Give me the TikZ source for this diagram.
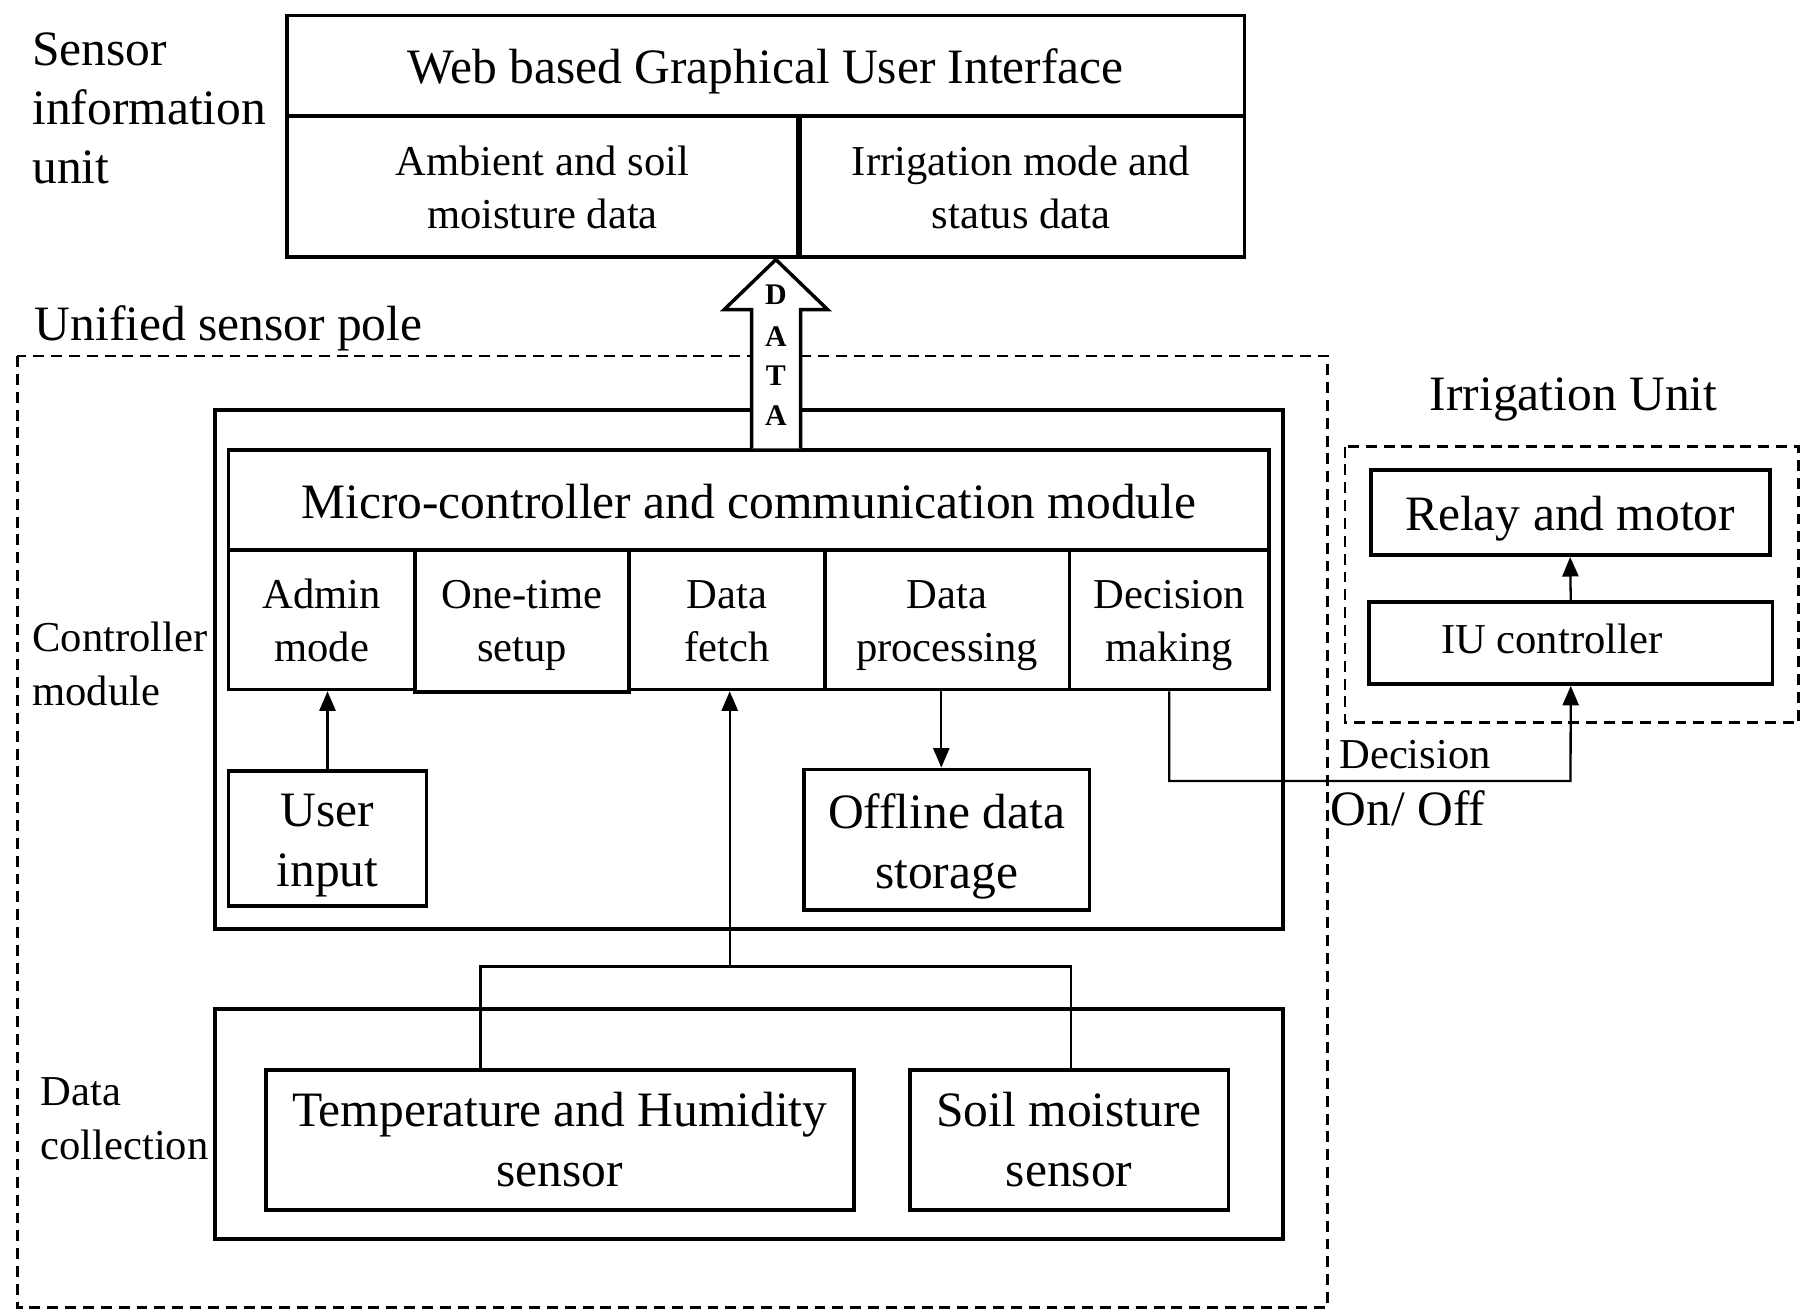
\documentclass[tikz,border=0pt]{standalone}
\usepackage{fontspec}
\setmainfont{Liberation Serif}
\usetikzlibrary{arrows.meta}
\newlength\tsh
\begin{document}
\begin{tikzpicture}[x=1pt,y=-1pt,
  lg/.style={font=\fontsize{43}{52}\selectfont},
  sm/.style={font=\fontsize{37}{46}\selectfont},
  ts/.code={\setlength\tsh{#1pt}},
  box/.style={draw,line width=3.2pt,inner sep=0pt,align=center,ts=6,
    execute at begin node={\rule{0pt}{\dimexpr.7\baselineskip+2\tsh\relax}},
    execute at end node={\strut}},
  box2/.style={draw,line width=3.2pt,inner sep=0pt,align=center,ts=4.3,
    execute at begin node={\rule{0pt}{\dimexpr1.7\baselineskip+2\tsh\relax}},
    execute at end node={\strut}},
  arr/.style={line width=2pt,-{Triangle[length=17pt,width=14pt]}},
  wire/.style={line width=2pt},
  dashbox/.style={draw,line width=2.2pt,dash pattern=on 9.5pt off 6pt},
  lbl/.style={anchor=base west,inner sep=0pt},
  datal/.style={inner sep=0pt,font=\fontsize{26}{30}\selectfont\bfseries}]
\useasboundingbox (0,0) rectangle (1568,1137.2);

% Dashed groups
\draw[dashbox] (15,309.3) rectangle (1153.3,1135.7);
\draw[dashbox] (1168.3,388) rectangle (1562.3,627.8);

% Sensor information unit
\node[box,lg,ts=4.6,minimum width=831.6pt,minimum height=87.2pt] (gui) at (665.2,57.2) {Web based Graphical User Interface};
\node[box2,sm,ts=4.2,minimum width=443.6pt,minimum height=122.2pt] (amb) at (471.2,161.9) {Ambient and soil\\moisture data};
\node[box2,sm,ts=4.2,minimum width=388pt,minimum height=122.2pt] (irr) at (887,161.9) {Irrigation mode and\\status data};
\draw[line width=5pt] (amb.north east) -- (amb.south east);

% Controller module
\draw[line width=3.2pt] (187,356) rectangle (1114.4,807.3);
\node[box,lg,ts=5.5,minimum width=904pt,minimum height=86.8pt] (micro) at (650.5,434.4) {Micro-controller and communication module};
\node[box2,sm,minimum width=162.1pt,minimum height=121.1pt] (admin) at (279.55,538.35) {Admin\\mode};
\node[box2,sm,ts=3.3,minimum width=186pt,minimum height=123.2pt] (onetime) at (453.6,539.4) {One-time\\setup};
\node[box2,sm,minimum width=170pt,minimum height=121.1pt] (fetch) at (631.6,538.35) {Data\\fetch};
\node[box2,sm,minimum width=212.4pt,minimum height=121.1pt] (proc) at (822.8,538.35) {Data\\processing};
\node[box2,sm,minimum width=173.5pt,minimum height=121.1pt] (decm) at (1015.75,538.35) {Decision\\making};
\node[box2,lg,ts=5.4,minimum width=172pt,minimum height=117.2pt] (user) at (284.5,728.4) {User\\input};
\node[box2,lg,ts=5.8,minimum width=248.2pt,minimum height=122.1pt] (offline) at (822.3,729.45) {Offline data\\storage};

% Data collection
\draw[line width=3.2pt] (187,876.8) rectangle (1114.4,1076.3);
\node[box2,lg,ts=4.2,minimum width=510.7pt,minimum height=121.6pt] (temp) at (486.25,990.3) {Temperature and Humidity\\sensor};
\node[box2,lg,ts=4.2,minimum width=276.8pt,minimum height=121.6pt] (soil) at (928.7,990.3) {Soil moisture\\sensor};

% Irrigation unit
\node[box,lg,ts=5.6,minimum width=346.6pt,minimum height=73.9pt] (relay) at (1364,445.25) {Relay and motor};
\node[box,sm,ts=0,minimum width=350.6pt,minimum height=71.5pt] (iuc) at (1364.5,558.45) {IU controller\hspace*{33pt}};

% Labels
\node[lbl,lg] (l1) at (28,56.5) {Sensor};
\node[lbl,lg] (l2) at (28,108.5) {information};
\node[lbl,lg] (l3) at (28,159.5) {unit};
\node[lbl,lg] (l4) at (30,295.5) {Unified sensor pole};
\node[anchor=base,inner sep=0pt,lg] (l5) at (1367,356.5) {Irrigation Unit};
\node[lbl,sm] (l6) at (28,566) {Controller};
\node[lbl,sm] (l7) at (28,612.5) {module};
\node[lbl,sm] (l8) at (35,960.5) {Data};
\node[lbl,sm] (l9) at (35,1007) {collection};
\node[lbl,sm] (l10) at (1163.3,667.5) {Decision};
\node[lbl,lg] (l11) at (1156,717) {On/ Off};

% Connectors
\coordinate (jn) at (633.9,839.7);
\coordinate (tl) at (417.4,839.7);
\coordinate (sr) at (930.4,839.7);
\coordinate (pa) at (817.7,0);
\coordinate (dj) at (1364.3,678.5);
\draw[arr] (user.north) -- (user.north |- admin.south);
\draw[arr] (jn) -- (jn |- fetch.south);
\draw[wire] (tl |- temp.north) -- (tl) -- (sr) -- (sr |- soil.north);
\draw[arr] (pa |- proc.south) -- (pa |- offline.north);
\draw[arr] (decm.south) |- (dj) -- (iuc.south);
\draw[arr] (iuc.north) -- (relay.south);

% DATA arrow
\draw[line width=3pt,fill=white,line join=miter]
  (653,389.5) -- (653,269) -- (629,269) -- (674,225.5) -- (719,269) -- (695.5,269) -- (695.5,389.5);
\node[datal] (d1) at (674,256) {D};
\node[datal] (d2) at (674,292) {A};
\node[datal] (d3) at (674,326) {T};
\node[datal] (d4) at (674,361) {A};
\end{tikzpicture}
\end{document}
